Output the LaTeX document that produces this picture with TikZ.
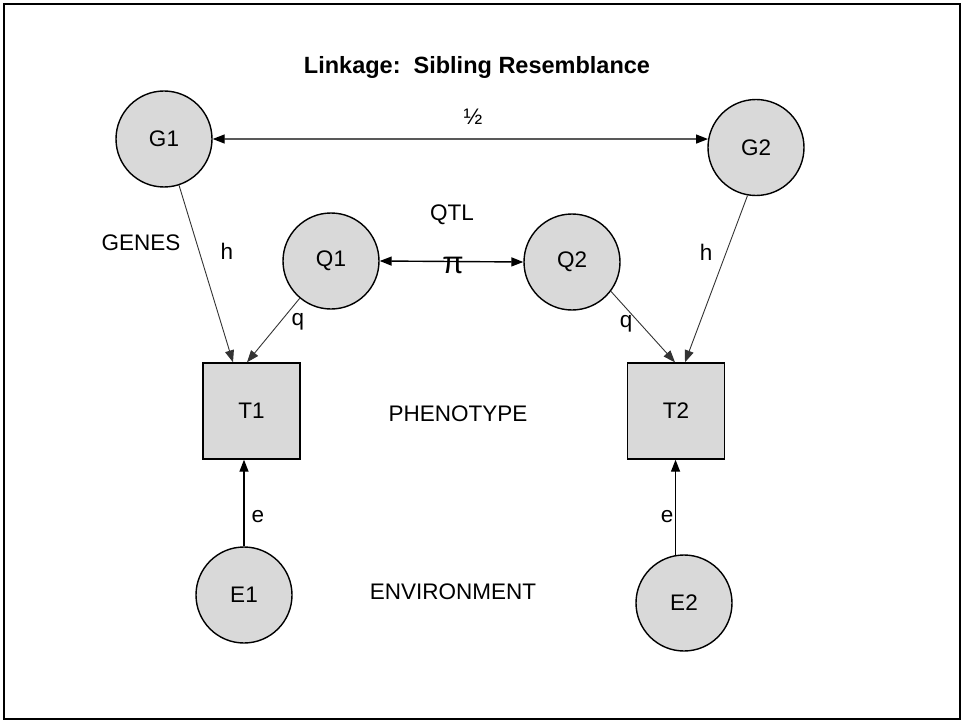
\documentclass[tikz,border=0pt]{standalone}
\usepackage{fontspec}
\setmainfont{Liberation Sans}
\usetikzlibrary{arrows.meta}
\definecolor{boxgray}{HTML}{D9D9D9}
\begin{document}
\begin{tikzpicture}[x=1pt,y=-1pt,
  font=\fontsize{22.5}{27}\selectfont,
  latent/.style={circle,draw,line width=1.4pt,fill=boxgray,minimum size=96pt,inner sep=0pt},
  observed/.style={rectangle,draw,line width=1.4pt,fill=boxgray,minimum width=97pt,minimum height=96pt,inner sep=0pt},
  tip/.style={-{Triangle[length=12pt,width=9pt]}},
  bothtips/.style={{Triangle[length=12pt,width=9pt]}-{Triangle[length=12pt,width=9pt]}},
  strong/.style={line width=1.4pt},
  path/.style={line width=0.9pt,draw=black!80},
  lbl/.style={inner sep=0pt}]
  % page frame
  \useasboundingbox (0,0) rectangle (963,722);
  \draw[line width=2.5pt] (4,4) rectangle (960,719);

  % title
  \node[lbl,font=\fontsize{23.5}{28}\selectfont\bfseries] (title) at (477,67) {Linkage:\ \ Sibling Resemblance};

  % latent and observed variables
  \node[latent] (G1) at (164,139) {G1};
  \node[latent] (G2) at (756,147.5) {G2};
  \node[latent] (Q1) at (331,261) {Q1};
  \node[latent] (Q2) at (572,262) {Q2};
  \node[observed] (T1) at (251.5,411) {T1};
  \node[observed] (T2) at (676,411) {T2};
  \node[latent] (E1) at (244,595) {E1};
  \node[latent] (E2) at (684,603) {E2};

  % correlations between siblings
  \draw[strong,bothtips] (G1.east) -- (G2.170);
  \draw[strong,bothtips] (Q1.east) -- (Q2.west);

  % paths to the phenotypes
  \draw[path,tip] (G1.-72) -- ([xshift=-18.5pt]T1.north);
  \draw[path,tip] (Q1.230) -- ([xshift=-4.5pt]T1.north);
  \draw[path,tip] (G2.260) -- ([xshift=9pt]T2.north);
  \draw[path,tip] (Q2.-37) -- ([xshift=-1pt]T2.north);
  \draw[strong,tip] (E1.north) -- (E1.north |- T1.south);
  \draw[strong,tip] (E2.100) -- (E2.100 |- T2.south);

  % labels
  \node[lbl] (half) at (473,117) {½};
  \node[lbl] (qtl) at (452,215) {QTL};
  \node[lbl,font=\fontsize{31}{31}\selectfont] (pi) at (453,265) {π};
  \node[lbl] (genes) at (141,243) {GENES};
  \node[lbl] (h1) at (227,251) {h};
  \node[lbl] (h2) at (706,252) {h};
  \node[lbl] (q1) at (298,322) {q};
  \node[lbl] (q2) at (626,324) {q};
  \node[lbl] (pheno) at (458,414) {PHENOTYPE};
  \node[lbl] (env) at (453,592) {ENVIRONMENT};
  \node[lbl] (e1) at (258,517) {e};
  \node[lbl] (e2) at (667,517) {e};
\end{tikzpicture}
\end{document}
